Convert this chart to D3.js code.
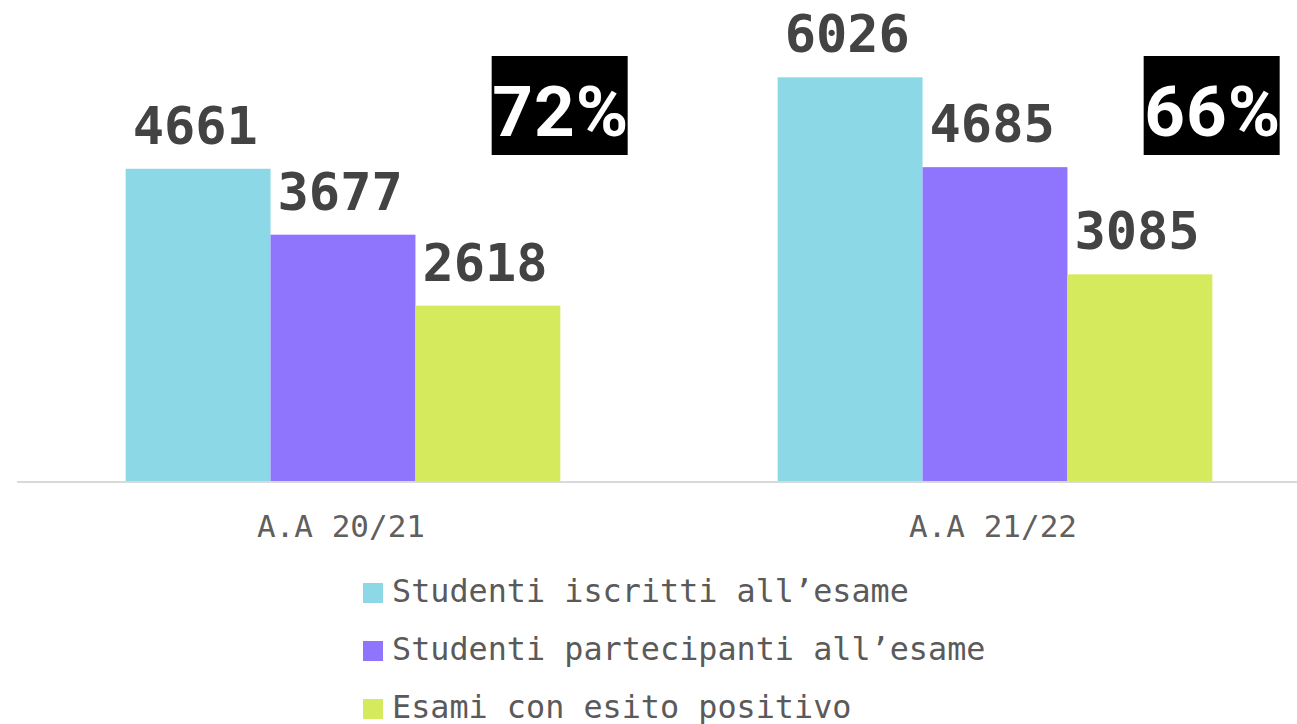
<!DOCTYPE html>
<html>
<head>
<meta charset="utf-8">
<script src="https://cdn.jsdelivr.net/npm/d3@7"></script>
<style>
  html, body { margin: 0; padding: 0; background: #ffffff; }
  svg { display: block; }
</style>
</head>
<body>
<svg id="chart" width="1297" height="724"></svg>
<script>
// ---- data ----
const categories = ["A.A 20/21", "A.A 21/22"];
const seriesNames = ["Studenti iscritti all\u2019esame", "Studenti partecipanti all\u2019esame", "Esami con esito positivo"];
const iscritti = [4661, 6026];
const partecipanti = [3677, 4685];
const positivi = [2618, 3085];
const percentLabels = ["72%", "66%"];
const seriesColors = ["#8dd8e6", "#8f75fd", "#d6ea5d"];

// ---- build ----
const seriesValues = [iscritti, partecipanti, positivi];
const table = categories.map((c, i) => ({
  cat: c,
  pct: percentLabels[i],
  vals: seriesNames.map((s, j) => ({ key: s, value: seriesValues[j][i], idx: j }))
}));

const svg = d3.select("#chart");
const baseY = 481;

const x0 = d3.scaleBand().domain(categories).range([17, 1321]).paddingInner(1/3).paddingOuter(1/6);
const x1 = d3.scaleBand().domain(seriesNames).range([0, x0.bandwidth()]).padding(0);
const y = d3.scaleLinear().domain([0, 7180]).range([baseY, 0]);
const color = d3.scaleOrdinal().domain(seriesNames).range(seriesColors);

// baseline axis
svg.append("line")
  .attr("x1", 17).attr("x2", 1297)
  .attr("y1", baseY + 1).attr("y2", baseY + 1)
  .attr("stroke", "#d9d9d9").attr("stroke-width", 2);

const groups = svg.selectAll("g.grp").data(table).join("g")
  .attr("class", "grp")
  .attr("transform", d => `translate(${x0(d.cat)},0)`);

groups.selectAll("rect.bar").data(d => d.vals).join("rect")
  .attr("class", "bar")
  .attr("x", d => x1(d.key))
  .attr("y", d => y(d.value))
  .attr("width", x1.bandwidth())
  .attr("height", d => baseY - y(d.value))
  .attr("fill", d => color(d.key));

groups.selectAll("text.val").data(d => d.vals).join("text")
  .attr("class", "val")
  .attr("x", d => x1(d.key) + 7)
  .attr("y", d => y(d.value) - 25)
  .attr("font-family", "'DejaVu Sans Mono', 'Liberation Mono', monospace")
  .attr("font-weight", "bold")
  .attr("font-size", 52)
  .attr("fill", "#434343")
  .text(d => d.value);

// percent boxes
const boxOffset = 366, boxW = 136, boxTop = 56, boxH = 99;
groups.append("rect")
  .attr("x", boxOffset).attr("y", boxTop)
  .attr("width", boxW).attr("height", boxH)
  .attr("fill", "#000000");
groups.append("text")
  .attr("x", boxOffset + boxW / 2 + 1)
  .attr("y", 136)
  .attr("text-anchor", "middle")
  .attr("font-family", "Roboto, 'Noto Sans', sans-serif")
  .attr("font-weight", "bold")
  .attr("font-size", 71)
  .attr("letter-spacing", 1)
  .attr("fill", "#ffffff")
  .text(d => d.pct);

// category labels
svg.selectAll("text.cat").data(categories).join("text")
  .attr("class", "cat")
  .attr("x", d => x0(d) + x0.bandwidth() / 2 - 2)
  .attr("y", 537)
  .attr("text-anchor", "middle")
  .attr("font-family", "'DejaVu Sans Mono', 'Liberation Mono', monospace")
  .attr("font-size", 31)
  .attr("fill", "#5f5f5f")
  .text(d => d);

// legend
const legend = svg.selectAll("g.leg").data(seriesNames).join("g")
  .attr("class", "leg")
  .attr("transform", (d, i) => `translate(363,${583 + i * 58})`);
legend.append("rect")
  .attr("width", 20).attr("height", 20)
  .attr("fill", d => color(d));
legend.append("text")
  .attr("x", 29).attr("y", 19)
  .attr("font-family", "'DejaVu Sans Mono', 'Liberation Mono', monospace")
  .attr("font-size", 31.8)
  .attr("fill", "#5a5a5a")
  .text(d => d);
</script>
</body>
</html>
